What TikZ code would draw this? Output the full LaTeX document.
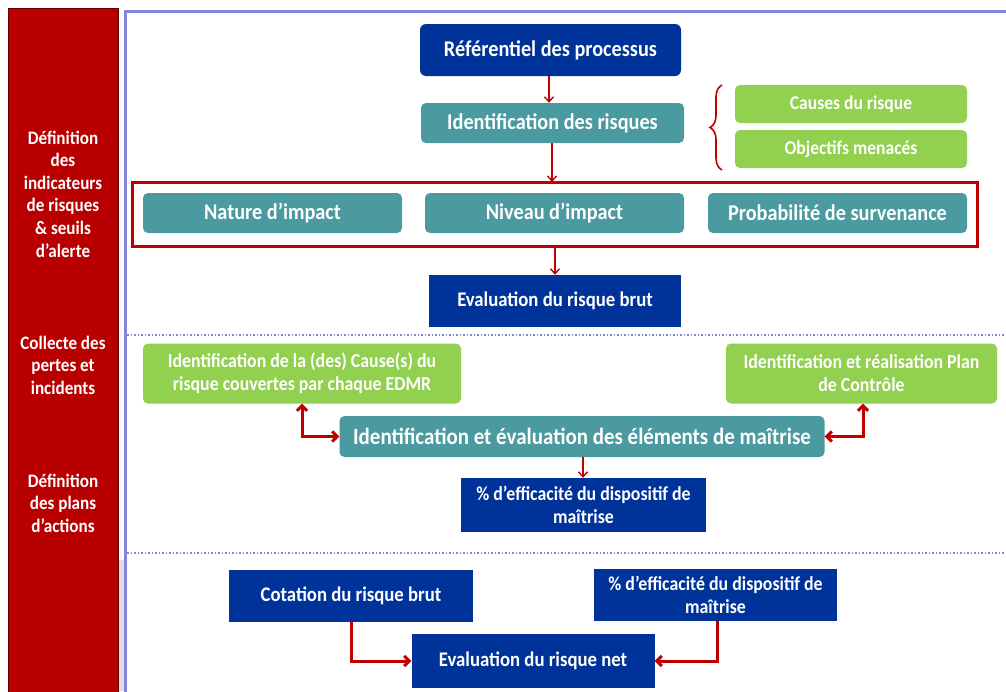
\documentclass[tikz,border=0pt]{standalone}
\usepackage{fontspec}
\setmainfont{Carlito}[FakeStretch=0.9]
\usetikzlibrary{arrows.meta,decorations.pathreplacing}
\definecolor{navy}{HTML}{003399}
\definecolor{tealb}{HTML}{4A9AA0}
\definecolor{greenb}{HTML}{92D050}
\definecolor{redc}{HTML}{C00000}
\definecolor{redbar}{HTML}{B80000}
\definecolor{lav}{HTML}{8585D8}
\tikzset{
  box/.style={inner sep=0pt, text=white, align=center, font=\bfseries},
  navybox/.style={box, fill=navy},
  tealbox/.style={box, fill=tealb, rounded corners=5pt},
  greenbox/.style={box, fill=greenb, rounded corners=5pt},
  thinarrow/.style={draw=redc, line width=1.4pt, -{Straight Barb[length=5pt,width=9pt]}},
  thickarrow/.style={draw=redc, line width=3pt, -{Straight Barb[length=5pt,width=10pt]}},
  dblarrow/.style={draw=redc, line width=3pt, {Straight Barb[length=5pt,width=10pt]}-{Straight Barb[length=5pt,width=10pt]}},
  sidetext/.style={text=white, align=center, font=\bfseries\fontsize{19}{22.6}\selectfont},
  sep/.style={draw=lav, line width=1.5pt, dotted}
}
\newcommand{\fs}[2]{\fontsize{#1}{#2}\selectfont}
\begin{document}
\begin{tikzpicture}[x=1pt,y=-1pt]
\useasboundingbox (0,0) rectangle (1006,691);
\fill[white] (0,0) rectangle (1006,691);
% left bar
\fill[gray!25] (110,560) rectangle (126,691);
\draw[fill=redbar, draw=red!40!black, line width=1pt] (8,8) rectangle (118,700);
\node[sidetext] (s1) at (63,194) {Définition\\des\\indicateurs\\de risques\\\& seuils\\d’alerte};
\node[sidetext] (s2) at (63,365) {Collecte des\\pertes et\\incidents};
\node[sidetext] (s3) at (63,503) {Définition\\des plans\\d’actions};
% main panel frame
\draw[lav, line width=3pt] (125,700) -- (125,11) -- (1010,11);
% separators
\draw[sep] (127,335) -- (1006,335);
\draw[sep] (127,553) -- (1006,553);

% top section
\node[navybox, rounded corners=6pt, minimum width=261pt, minimum height=52pt, font=\bfseries\fs{22.5}{26}] (ref) at (550.5,50) {Référentiel des processus};
\node[tealbox, minimum width=263pt, minimum height=40pt, font=\bfseries\fs{22.5}{26}] (idr) at (552.5,123) {Identification des risques};
\node[greenbox, minimum width=232pt, minimum height=38pt, font=\bfseries\fs{19.5}{23}] (cause) at (851,104) {Causes du risque};
\node[greenbox, minimum width=232pt, minimum height=38pt, font=\bfseries\fs{19.5}{23}] (obj) at (851,149) {Objectifs menacés};
\draw[redc, line width=1.6pt, decorate, decoration={brace, amplitude=12pt}] (722,170) -- (722,85);

\draw[redc, line width=3pt] (132,182) rectangle (977,246);
\coordinate (frametop) at (552,182);
\coordinate (framebot) at (555,246);
\node[tealbox, minimum width=259pt, minimum height=40pt, font=\bfseries\fs{22.5}{26}] (nat) at (272.5,213) {Nature d’impact};
\node[tealbox, minimum width=259pt, minimum height=40pt, font=\bfseries\fs{22.5}{26}] (niv) at (554.5,213) {Niveau d’impact};
\node[tealbox, minimum width=259pt, minimum height=40pt, font=\bfseries\fs{22.5}{26}] (prob) at (837.5,213) {Probabilité de survenance};
\node[navybox, minimum width=252pt, minimum height=52pt, font=\bfseries\fs{20.8}{24}] (evb) at (555,301) {Evaluation du risque brut};

\draw[thinarrow] (ref.south -| 549,0) -- (idr.north -| 549,0);
\draw[thinarrow] (idr.south -| 552,0) -- (frametop);
\draw[thinarrow] (framebot) -- (evb.north -| 555,0);

% middle section
\node[greenbox, minimum width=318pt, minimum height=60pt, font=\bfseries\fs{19.8}{23}] (g1) at (302,373.5) {Identification de la (des) Cause(s) du\\risque couvertes par chaque EDMR};
\node[greenbox, minimum width=271pt, minimum height=60pt, font=\bfseries\fs{19.8}{23}] (g2) at (861.5,373.5) {Identification et réalisation Plan\\de Contrôle};
\node[tealbox, minimum width=485pt, minimum height=41pt, font=\bfseries\fs{23.3}{27}] (iem) at (582,436.5) {Identification et évaluation des éléments de maîtrise};
\node[navybox, minimum width=245pt, minimum height=54pt, font=\bfseries\fs{19.8}{23}] (eff1) at (583.5,505) {\% d’efficacité du dispositif de\\maîtrise};

\draw[dblarrow] (g1.south -| 302,0) |- (iem.west);
\draw[dblarrow] (g2.south -| 863,0) |- (iem.east);
\draw[thinarrow] (iem.south -| 583,0) -- (eff1.north -| 583,0);

% bottom section
\node[navybox, minimum width=244pt, minimum height=52pt, font=\bfseries\fs{20.8}{24}] (cot) at (351,596) {Cotation du risque brut};
\node[navybox, minimum width=243pt, minimum height=52pt, font=\bfseries\fs{19.8}{23}] (eff2) at (715.5,595) {\% d’efficacité du dispositif de\\maîtrise};
\node[navybox, minimum width=243pt, minimum height=54pt, font=\bfseries\fs{20.8}{24}] (net) at (533,661) {Evaluation du risque net};

\draw[thickarrow] (cot.south -| 351,0) |- (net.west);
\draw[thickarrow] (eff2.south -| 717,0) |- (net.east);
\end{tikzpicture}
\end{document}
